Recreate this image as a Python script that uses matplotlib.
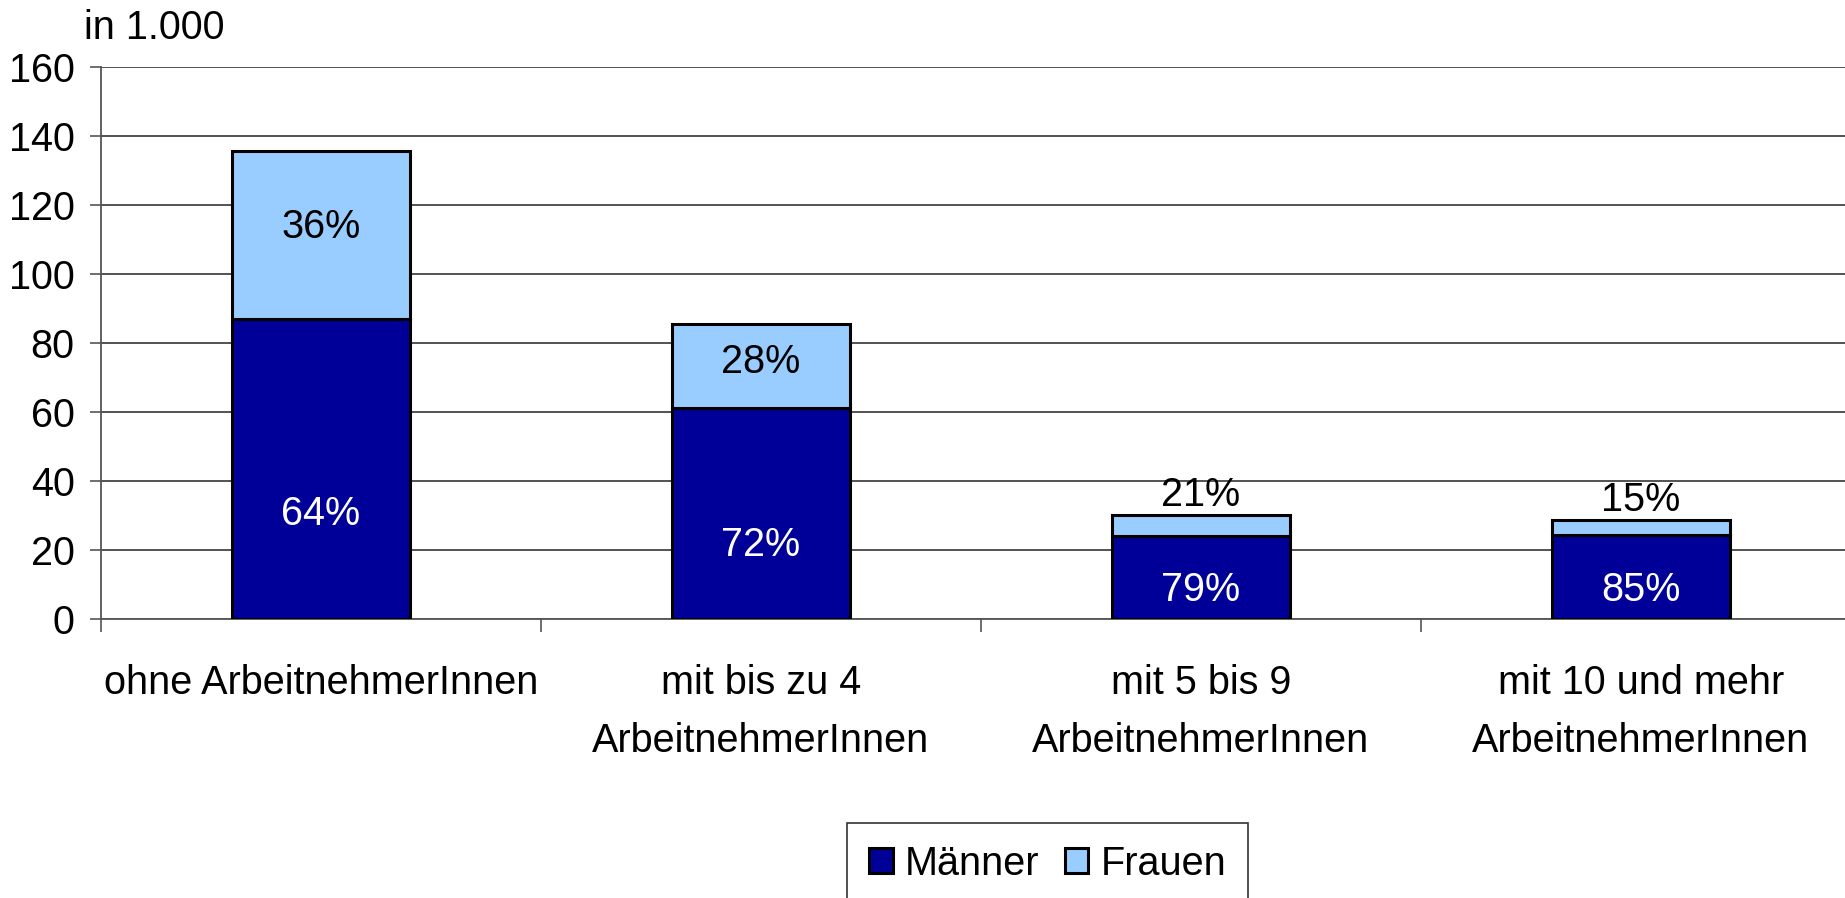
import matplotlib
matplotlib.use("Agg")
import matplotlib.pyplot as plt
import numpy as np

categories = ["ohne ArbeitnehmerInnen", "mit bis zu 4\nArbeitnehmerInnen",
              "mit 5 bis 9\nArbeitnehmerInnen", "mit 10 und mehr\nArbeitnehmerInnen"]
maenner = [86.8, 61.3, 24.1, 24.4]
frauen = [48.8, 24.2, 6.0, 4.4]
pct_maenner = ["64%", "72%", "79%", "85%"]
pct_frauen = ["36%", "28%", "21%", "15%"]
yticks = [0, 20, 40, 60, 80, 100, 120, 140, 160]

plt.rcParams['font.family'] = ['Liberation Sans', 'DejaVu Sans']
FS = 28.5

W, H = 1845, 898
fig = plt.figure(figsize=(W/100, H/100), dpi=100)
ax = fig.add_axes([101/W, 1-619.3/H, (W-101)/W, (619.3-66.5)/H])

x = np.arange(len(categories))
bw = 0.405
dark = "#000099"
light = "#99CCFF"
b1 = ax.bar(x, maenner, bw, color=dark, edgecolor="black", linewidth=2.2, zorder=3, label="Männer")
b2 = ax.bar(x, frauen, bw, bottom=maenner, color=light, edgecolor="black", linewidth=2.2, zorder=3, label="Frauen")

for i in range(len(categories)):
    ax.text(x[i], maenner[i]*0.35, pct_maenner[i], ha="center", va="center",
            color="white", fontsize=FS, zorder=4)
    if frauen[i] > 10:
        ax.text(x[i], maenner[i] + frauen[i]*0.55, pct_frauen[i], ha="center", va="center",
                color="black", fontsize=FS, zorder=4)
    else:
        ax.text(x[i], maenner[i] + frauen[i] + 0.3, pct_frauen[i], ha="center", va="bottom",
                color="black", fontsize=FS, zorder=4)

ax.set_ylim(0, 160)
ax.set_xlim(-0.5, -0.5 + (W-101)/440)
ax.set_yticks(yticks)
ax.set_yticklabels([str(v) for v in yticks], fontsize=FS)
ax.tick_params(axis="y", length=8, width=1.2, color="#555555", pad=11)
ax.yaxis.grid(True, color="#444444", linewidth=1.3, zorder=0)
ax.set_axisbelow(True)

ax.set_xticks(x)
ax.set_xticklabels(categories, fontsize=FS, linespacing=1.68)
ax.tick_params(axis="x", length=0, pad=32)
ax.set_xticks([-0.5, 0.5, 1.5, 2.5], minor=True)
ax.tick_params(axis="x", which="minor", length=9, width=1.2, color="#555555")

for s in ["top", "right"]:
    ax.spines[s].set_visible(False)
ax.spines["left"].set_color("#555555")
ax.spines["left"].set_linewidth(1.3)
ax.spines["bottom"].set_color("#555555")
ax.spines["bottom"].set_linewidth(1.3)

fig.text(84/W, 1-28/H, "in 1.000", fontsize=FS, ha="left", va="center")

leg = fig.legend(handles=[b1, b2], loc="upper center",
                 bbox_to_anchor=((857+1238)/2/W, 1-823/H), ncol=2, fontsize=FS,
                 frameon=True, fancybox=False, handlelength=0.6, handleheight=0.6,
                 handletextpad=0.3, columnspacing=0.65, borderpad=0.55, borderaxespad=0)
leg.get_frame().set_edgecolor("black")
leg.get_frame().set_linewidth(1.2)

fig.savefig("out.png", dpi=100)
